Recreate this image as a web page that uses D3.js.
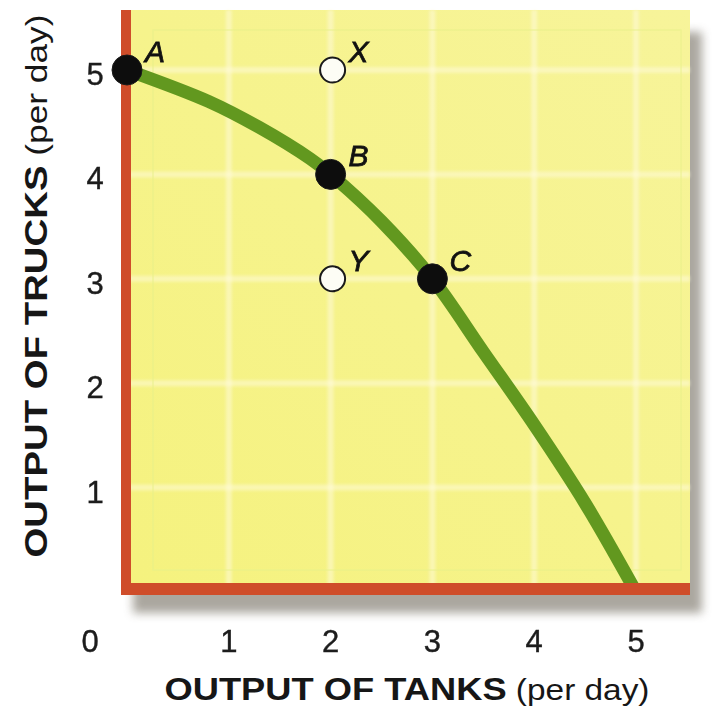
<!DOCTYPE html>
<html><head><meta charset="utf-8">
<script src="https://cdn.jsdelivr.net/npm/d3@7"></script>
<style>body{margin:0;background:#fff;}svg{display:block;}</style>
</head><body>
<svg id="c" width="716" height="708"></svg>
<script>
// ---- data ----
const curveTanks  = [0, 0.8, 1.3, 1.8, 2, 2.5, 3, 3.5, 4, 4.5, 5];
const curveTrucks = [5, 4.7, 4.45, 4.15, 4, 3.55, 3, 2.3, 1.6, 0.85, 0];
const pointNames  = ["A", "B", "C", "X", "Y"];
const pointTanks  = [0, 2, 3, 2, 2];
const pointTrucks = [5, 4, 3, 5, 3];
const pointFilled = [true, true, true, false, false];
const xTickLabels = [1, 2, 3, 4, 5];
const yTickLabels = [1, 2, 3, 4, 5];
const xTitleBold = "OUTPUT OF TANKS", xTitleRest = " (per day)";
const yTitleBold = "OUTPUT OF TRUCKS", yTitleRest = " (per day)";

const svg = d3.select("#c");
const x = d3.scaleLinear().domain([0, 5]).range([127, 636]);
const y = d3.scaleLinear().domain([0, 5]).range([592, 70]);
const plotL = 127, plotR = 690, plotT = 10, plotB = 589;

const defs = svg.append("defs");
const f = defs.append("filter").attr("id","sh").attr("x","-10%").attr("y","-10%").attr("width","130%").attr("height","130%");
f.append("feGaussianBlur").attr("stdDeviation", 5);
const g1 = defs.append("linearGradient").attr("id","bg").attr("x1",0).attr("y1",1).attr("x2",1).attr("y2",0);
g1.append("stop").attr("offset","0%").attr("stop-color","#f5f27e");
g1.append("stop").attr("offset","100%").attr("stop-color","#f7f49a");
const blur2 = defs.append("filter").attr("id","bl");
blur2.append("feGaussianBlur").attr("stdDeviation", 1.8);
const cp = defs.append("clipPath").attr("id","pc");
cp.append("rect").attr("x", plotL).attr("y", plotT).attr("width", plotR - plotL).attr("height", plotB - plotT);

// shadow
svg.append("rect").attr("x", plotL + 6).attr("y", plotT + 22).attr("width", plotR - plotL + 6).attr("height", plotB - plotT + 2)
  .attr("fill", "#8f8a80").attr("opacity", 0.75).attr("filter", "url(#sh)");
// plot background
svg.append("rect").attr("x", plotL).attr("y", plotT).attr("width", plotR - plotL).attr("height", plotB - plotT)
  .attr("fill", "url(#bg)");

// grid
const grid = svg.append("g").attr("filter","url(#bl)");
grid.selectAll("line.v").data(xTickLabels).join("line")
  .attr("x1", d => x(d)).attr("x2", d => x(d)).attr("y1", plotT).attr("y2", plotB)
  .attr("stroke", "#fffbe0").attr("stroke-width", 6).attr("opacity", 0.5);
grid.selectAll("line.h").data(yTickLabels).join("line")
  .attr("y1", d => y(d)).attr("y2", d => y(d)).attr("x1", plotL).attr("x2", plotR)
  .attr("stroke", "#fffbe0").attr("stroke-width", 6).attr("opacity", 0.5);
// faint inner frame
svg.append("rect").attr("x", 153).attr("y", 30).attr("width", 528).attr("height", 540)
  .attr("fill","none").attr("stroke","#e8f08a").attr("stroke-width",1.5).attr("opacity",0.6);

// curve
const line = d3.line().x((d,i) => x(curveTanks[i])).y((d,i) => y(curveTrucks[i])).curve(d3.curveCatmullRom.alpha(0.5));
svg.append("path").datum(curveTanks).attr("d", line).attr("clip-path","url(#pc)")
  .attr("fill","none").attr("stroke","#62981f").attr("stroke-width",13).attr("stroke-linecap","round");

// axes
svg.append("line").attr("x1", plotL - 1).attr("x2", plotL - 1).attr("y1", plotT).attr("y2", plotB + 6)
  .attr("stroke","#cf4d2a").attr("stroke-width",10);
svg.append("line").attr("x1", plotL - 6).attr("x2", plotR).attr("y1", plotB).attr("y2", plotB)
  .attr("stroke","#cf4d2a").attr("stroke-width",12);

// points
const pts = pointNames.map((n,i) => ({n, t: pointTanks[i], r: pointTrucks[i], f: pointFilled[i]}));
svg.selectAll("circle.p").data(pts).join("circle")
  .attr("cx", d => x(d.t) + (d.f ? 0 : 2)).attr("cy", d => y(d.r))
  .attr("r", d => d.f ? 15 : 12.5)
  .attr("fill", d => d.f ? "#0d0d0d" : "#fdfdf5").attr("stroke","#1a1a1a").attr("stroke-width", d => d.f ? 1 : 2);
svg.selectAll("text.pl").data(pts).join("text")
  .attr("x", d => x(d.t) + 28).attr("y", d => y(d.r) - 8).attr("text-anchor","middle")
  .attr("font-family","Liberation Sans, Arial, sans-serif").attr("font-style","italic")
  .attr("font-size", 30).attr("fill","#111").attr("stroke","#111").attr("stroke-width",0.8).text(d => d.n);

// tick labels
const tf = "Liberation Sans, Arial, sans-serif";
svg.selectAll("text.xt").data(xTickLabels).join("text")
  .attr("x", d => x(d)).attr("y", 652).attr("text-anchor","middle")
  .attr("font-family", tf).attr("font-size", 31).attr("fill","#1c1c1c").attr("stroke","#1c1c1c").attr("stroke-width",0.4).text(d => d);
svg.append("text").attr("x", 90).attr("y", 652).attr("text-anchor","middle")
  .attr("font-family", tf).attr("font-size", 31).attr("fill","#1c1c1c").attr("stroke","#1c1c1c").attr("stroke-width",0.4).text(0);
svg.selectAll("text.yt").data(yTickLabels).join("text")
  .attr("x", 95).attr("y", d => y(d) + 15).attr("text-anchor","middle")
  .attr("font-family", tf).attr("font-size", 31).attr("fill","#1c1c1c").attr("stroke","#1c1c1c").attr("stroke-width",0.4).text(d => d);

// axis titles
function title(g, bold, rest, targetW, fs) {
  const t = g.append("text").attr("font-family", tf).attr("font-size", fs).attr("fill","#161616").attr("text-anchor","middle");
  t.append("tspan").attr("font-weight","bold").text(bold);
  t.append("tspan").attr("font-size", fs * 0.92).text(rest);
  t.attr("textLength", targetW).attr("lengthAdjust","spacingAndGlyphs");
  return t;
}
const xt = svg.append("g").attr("transform","translate(407,700)");
title(xt, xTitleBold, xTitleRest, 485, 32);
const yt = svg.append("g").attr("transform","translate(47,286) rotate(-90)");
title(yt, yTitleBold, yTitleRest, 543, 32);
</script>
</body></html>
